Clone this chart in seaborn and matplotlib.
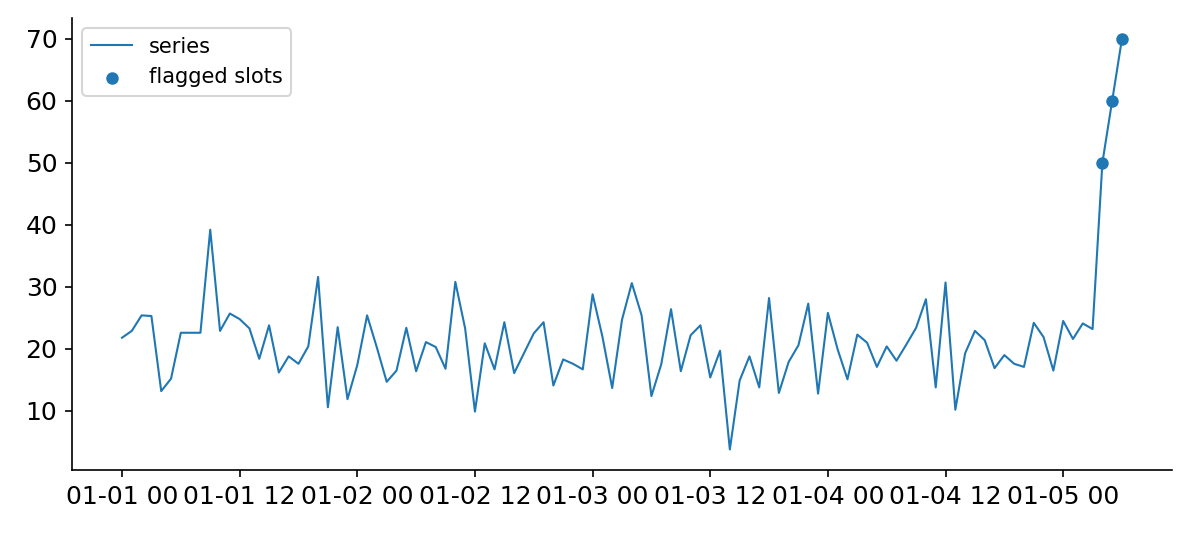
import pandas as pd
import seaborn as sns
import matplotlib
matplotlib.use("Agg")
import matplotlib.pyplot as plt
import matplotlib.dates as mdates

# hourly values
values = [
    21.8, 22.9, 25.4, 25.3, 13.2, 15.2, 22.6, 22.6, 22.6, 39.2,
    22.9, 25.7, 24.8, 23.3, 18.4, 23.8, 16.2, 18.8, 17.6, 20.4,
    31.6, 10.6, 23.5, 11.9, 17.4, 25.4, 20.2, 14.7, 16.5, 23.4,
    16.4, 21.1, 20.3, 16.8, 30.8, 23.3, 9.9, 20.9, 16.7, 24.3,
    16.1, 19.3, 22.5, 24.3, 14.1, 18.3, 17.6, 16.7, 28.8, 22.0,
    13.7, 24.7, 30.6, 25.4, 12.4, 17.5, 26.4, 16.4, 22.2, 23.8,
    15.4, 19.7, 3.8, 14.9, 18.8, 13.8, 28.2, 12.9, 17.9, 20.6,
    27.3, 12.8, 25.8, 19.9, 15.1, 22.3, 21.0, 17.1, 20.4, 18.1,
    20.7, 23.4, 28.0, 13.8, 30.7, 10.2, 19.3, 22.9, 21.4, 16.9,
    19.0, 17.6, 17.1, 24.2, 21.9, 16.5, 24.5, 21.6, 24.1, 23.2,
    50.0, 60.0, 70.0,
]
flagged_idx = [100, 101, 102]

times = pd.date_range("2024-01-01 00:00", periods=len(values), freq="h")
df = pd.DataFrame({"time": times, "value": values})
flagged = df.iloc[flagged_idx]

plt.rcParams["font.family"] = ["DejaVu Sans"]
plt.rcParams["xtick.labelsize"] = 12
plt.rcParams["ytick.labelsize"] = 12

fig = plt.figure(figsize=(1192 / 150, 537 / 150), dpi=150)
ax = fig.add_axes([72 / 1192, 67 / 537, 1100 / 1192, 452 / 537])

sns.lineplot(data=df, x="time", y="value", ax=ax, linewidth=1, color="C0",
             label="series")
sns.scatterplot(data=flagged, x="time", y="value", ax=ax, linewidth=0, s=36,
                color="C0", label="flagged slots", zorder=3)

ax.xaxis.set_major_locator(mdates.HourLocator(byhour=[0, 12]))
ax.xaxis.set_major_formatter(mdates.DateFormatter("%m-%d %H"))
ax.set_xlabel("")
ax.set_ylabel("")
ax.legend(loc="upper left", fontsize=10)
sns.despine(ax=ax)

fig.savefig("out.png", dpi=150)
